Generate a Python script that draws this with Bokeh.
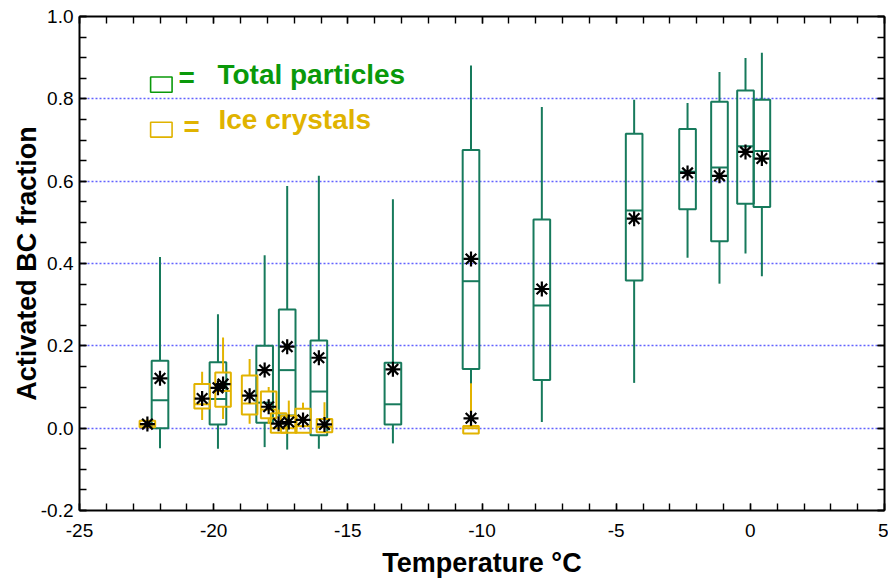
from bokeh.plotting import figure
from bokeh.models import (ColumnDataSource, LinearAxis, SingleIntervalTicker, Range1d,
                          Label, BoxAnnotation, NumeralTickFormatter, CustomJSTickFormatter)
from bokeh.embed import file_html
from bokeh.resources import INLINE

# ---- Total particles (green boxes) ----
temp_total = [-22.0, -19.84, -18.1, -17.26, -16.08, -13.32, -10.41, -7.77, -4.33, -2.34, -1.15, -0.18, 0.43]
q1_total = [0.0, 0.009, 0.013, 0.031, -0.017, 0.009, 0.144, 0.117, 0.359, 0.532, 0.454, 0.545, 0.537]
med_total = [0.068, 0.071, 0.062, 0.141, 0.089, 0.058, 0.357, 0.298, 0.529, 0.623, 0.633, 0.685, 0.673]
q3_total = [0.164, 0.160, 0.200, 0.288, 0.213, 0.159, 0.676, 0.507, 0.715, 0.727, 0.793, 0.820, 0.798]
lo_total = [-0.049, -0.05, -0.046, -0.052, -0.05, -0.037, 0.052, 0.015, 0.110, 0.414, 0.351, 0.424, 0.369]
hi_total = [0.416, 0.277, 0.420, 0.588, 0.613, 0.556, 0.881, 0.780, 0.798, 0.790, 0.865, 0.899, 0.912]
mean_total = [0.121, 0.098, 0.141, 0.198, 0.171, 0.143, 0.411, 0.338, 0.509, 0.620, 0.613, 0.671, 0.655]

# ---- Ice crystals (gold boxes) ----
temp_ice = [-22.47, -20.43, -19.65, -18.66, -17.95, -17.58, -17.2, -16.67, -15.87, -10.41]
q1_ice = [0.002, 0.048, 0.052, 0.033, 0.024, -0.011, -0.011, -0.011, -0.01, -0.013]
med_ice = [0.008, 0.058, 0.09, 0.06, 0.045, 0.0, 0.0, 0.005, 0.003, 0.0]
q3_ice = [0.018, 0.107, 0.135, 0.128, 0.089, 0.036, 0.03, 0.047, 0.022, 0.005]
lo_ice = [0.0, 0.02, 0.022, 0.011, 0.01, -0.012, -0.012, -0.012, -0.012, -0.013]
hi_ice = [0.02, 0.137, 0.22, 0.168, 0.1, 0.045, 0.067, 0.062, 0.063, 0.109]
mean_ice = [0.01, 0.072, 0.107, 0.079, 0.052, 0.011, 0.015, 0.02, 0.009, 0.024]

legend_labels = ["Total particles", "Ice crystals"]

GREEN = "#177a5c"
GOLD = "#e2b300"
LEG_GREEN = "#0a990a"
LEG_GOLD = "#e0b300"
FONT = "Liberation Sans"
W_T = 0.62
W_I = 0.58

p = figure(width=888, height=585, x_range=Range1d(-25, 5), y_range=Range1d(-0.2, 1.0),
           output_backend="svg", toolbar_location=None,
           min_border_left=79, min_border_right=4, min_border_top=16, min_border_bottom=75,
           x_axis_label="Temperature °C", y_axis_label="Activated BC fraction")
p.outline_line_color = None
p.background_fill_color = "white"
p.xgrid.visible = False
p.ygrid.grid_line_color = "#6262ff"
p.ygrid.grid_line_dash = "2 2"
p.ygrid.grid_line_width = 1.3


def style_axis(ax, interval, minor, fmt, labels=True):
    ax.ticker = SingleIntervalTicker(interval=interval, num_minor_ticks=minor)
    ax.axis_line_color = "black"
    ax.axis_line_width = 2
    ax.major_tick_line_width = 1.4
    ax.minor_tick_line_width = 1.4
    ax.major_tick_in = 7
    ax.major_tick_out = 0
    ax.minor_tick_in = 7
    ax.minor_tick_out = 0
    if labels:
        ax.formatter = NumeralTickFormatter(format=fmt)
        ax.major_label_text_font = FONT
        ax.major_label_text_font_size = "19px"
        ax.major_label_text_color = "black"
    else:
        ax.formatter = CustomJSTickFormatter(code="return ''")
        ax.major_label_text_font_size = "0px"
        ax.major_label_standoff = 0


xa = p.xaxis[0]
style_axis(xa, 5, 5, "0")
xa.major_label_standoff = 13
xa.axis_label_text_font = FONT
xa.axis_label_text_font_size = "27px"
xa.axis_label_text_font_style = "bold"
xa.axis_label_text_color = "black"
xa.axis_label_standoff = 8

ya = p.yaxis[0]
style_axis(ya, 0.2, 4, "0.0")
ya.major_label_standoff = 6
ya.axis_label_text_font = FONT
ya.axis_label_text_font_size = "27px"
ya.axis_label_text_font_style = "bold"
ya.axis_label_text_color = "black"
ya.axis_label_standoff = -4

top_ax = LinearAxis()
style_axis(top_ax, 5, 5, "0", labels=False)
p.add_layout(top_ax, "above")
right_ax = LinearAxis()
style_axis(right_ax, 0.2, 4, "0.0", labels=False)
p.add_layout(right_ax, "right")

src_t = ColumnDataSource(dict(
    x=temp_total, q1=q1_total, med=med_total, q3=q3_total, lo=lo_total, hi=hi_total, mean=mean_total,
    left=[t - W_T / 2 for t in temp_total], right=[t + W_T / 2 for t in temp_total]))
src_i = ColumnDataSource(dict(
    x=temp_ice, q1=q1_ice, med=med_ice, q3=q3_ice, lo=lo_ice, hi=hi_ice, mean=mean_ice,
    left=[t - W_I / 2 for t in temp_ice], right=[t + W_I / 2 for t in temp_ice]))


def draw_boxes(src, w, color):
    p.segment(x0="x", y0="q3", x1="x", y1="hi", source=src, line_color=color, line_width=2)
    p.segment(x0="x", y0="lo", x1="x", y1="q1", source=src, line_color=color, line_width=2)
    p.vbar(x="x", width=w, bottom="q1", top="q3", source=src, fill_color=None,
           line_color=color, line_width=2)
    p.segment(x0="left", y0="med", x1="right", y1="med", source=src, line_color=color, line_width=2)


draw_boxes(src_t, W_T, GREEN)
draw_boxes(src_i, W_I, GOLD)
p.scatter(x="x", y="mean", source=src_t, marker="asterisk", size=15, line_color="black", line_width=2.2)
p.scatter(x="x", y="mean", source=src_i, marker="asterisk", size=15, line_color="black", line_width=2.2)

# legend
p.add_layout(BoxAnnotation(left=-22.35, right=-21.55, bottom=0.816, top=0.853,
                           fill_alpha=0, line_color=LEG_GREEN, line_alpha=1, line_width=1.6))
p.add_layout(BoxAnnotation(left=-22.35, right=-21.55, bottom=0.707, top=0.743,
                           fill_alpha=0, line_color=LEG_GOLD, line_alpha=1, line_width=1.6))
for (xe, ye, xt, yt, txt, col) in [(-21.31, 0.851, -19.86, 0.860, legend_labels[0], LEG_GREEN),
                                   (-21.12, 0.733, -19.82, 0.749, legend_labels[1], LEG_GOLD)]:
    p.add_layout(Label(x=xe, y=ye, text="=", text_font=FONT, text_font_size="28px",
                       text_font_style="bold", text_color=col, text_baseline="alphabetic"))
    p.add_layout(Label(x=xt, y=yt, text=txt, text_font=FONT, text_font_size="28px",
                       text_font_style="bold", text_color=col, text_baseline="alphabetic"))

open("out.html", "w").write(file_html(p, INLINE))
